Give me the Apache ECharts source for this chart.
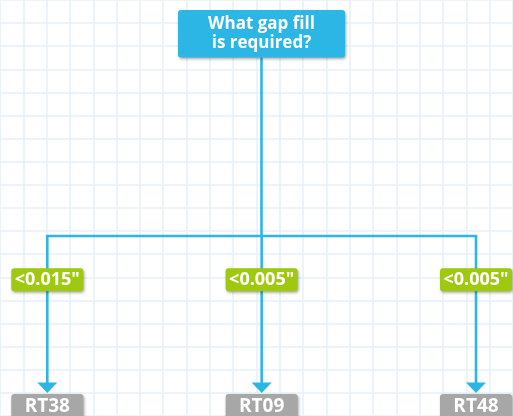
<!DOCTYPE html>
<html>
<head>
<meta charset="utf-8">
<script src="https://cdn.jsdelivr.net/npm/echarts@6/dist/echarts.min.js"></script>
<style>
  html, body { margin: 0; padding: 0; background: #ffffff; }
  #chart { width: 513px; height: 416px; }
</style>
</head>
<body>
<div id="chart"></div>
<script>
// ---- content (data) ----
const question = ['What gap fill', 'is required?'];
const conditions = ['<0.015"', '<0.005"', '<0.005"'];
const results = ['RT38', 'RT09', 'RT48'];

// ---- layout ----
const FONT = '"Open Sans", "Noto Sans", sans-serif';
const BLUE = '#2cb6e6';
const GREEN = '#9fc90f';
const GRAY = '#a7a7a7';
const GRIDLINE = '#e4f0fa';
const shadow = { shadowBlur: 3, shadowOffsetX: 1, shadowOffsetY: 1.5, shadowColor: 'rgba(0,0,0,0.35)' };

const rootX = 261.5, rootTop = 10, rootH = 47.5, rootW = 167;
const barY = 236;
const firstX = 47.3, stepX = 214.35;
const condY = 279.7, condW = 72, condH = 23;
const arrowTip = 393, arrowH = 10.5, arrowHalf = 10;
const resTop = 394, resW = 72, resH = 25;

const branchX = i => firstX + i * stepX;

const chart = echarts.init(document.getElementById('chart'), null, { renderer: 'canvas' });

const hidden = { axisLine: { show: false }, axisTick: { show: false }, axisLabel: { show: false } };

const option = {
  backgroundColor: '#ffffff',
  animation: false,
  grid: [
    // background graph paper
    { left: 22.3 - 23.93, top: 10 - 24, width: 23.93 * 22, height: 24 * 18, containLabel: false },
    // content, 1 unit = 1 px
    { left: 0, top: 0, right: 0, bottom: 0, containLabel: false }
  ],
  xAxis: [
    Object.assign({ gridIndex: 0, type: 'value', min: 0, max: 22, interval: 1,
      splitLine: { show: true, lineStyle: { color: GRIDLINE, width: 1.5 } } }, hidden),
    Object.assign({ gridIndex: 1, type: 'value', min: 0, max: 513, splitLine: { show: false } }, hidden)
  ],
  yAxis: [
    Object.assign({ gridIndex: 0, type: 'value', min: 0, max: 18, interval: 1, inverse: true,
      splitLine: { show: true, lineStyle: { color: GRIDLINE, width: 1.5 } } }, hidden),
    Object.assign({ gridIndex: 1, type: 'value', min: 0, max: 416, inverse: true, splitLine: { show: false } }, hidden)
  ],
  series: [
    // trunk: stem from question + horizontal bar
    {
      type: 'custom', xAxisIndex: 1, yAxisIndex: 1, silent: true,
      data: [[rootX, rootTop + rootH]],
      renderItem: function (params, api) {
        const top = api.coord([api.value(0), api.value(1)]);
        const bar = api.coord([rootX, barY]);
        const l = api.coord([branchX(0), barY]);
        const r = api.coord([branchX(results.length - 1), barY]);
        return {
          type: 'group',
          children: [
            { type: 'line', shape: { x1: top[0], y1: top[1], x2: bar[0], y2: bar[1] },
              style: { stroke: BLUE, lineWidth: 2.6 } },
            { type: 'line', shape: { x1: l[0], y1: l[1], x2: r[0], y2: r[1] },
              style: { stroke: BLUE, lineWidth: 2.6, lineCap: 'square' } }
          ]
        };
      }
    },
    // branches with arrows
    {
      type: 'custom', xAxisIndex: 1, yAxisIndex: 1, silent: true,
      data: results.map((_, i) => [branchX(i), barY, arrowTip]),
      renderItem: function (params, api) {
        const a = api.coord([api.value(0), api.value(1)]);
        const b = api.coord([api.value(0), api.value(2)]);
        return {
          type: 'group',
          children: [
            { type: 'line', shape: { x1: a[0], y1: a[1], x2: b[0], y2: b[1] - arrowH + 1 },
              style: { stroke: BLUE, lineWidth: 2.6 } },
            { type: 'polygon', shape: { points: [[b[0] - arrowHalf, b[1] - arrowH], [b[0] + arrowHalf, b[1] - arrowH], [b[0], b[1]]] },
              style: { fill: BLUE } }
          ]
        };
      }
    },
    // question box
    {
      type: 'custom', xAxisIndex: 1, yAxisIndex: 1, silent: true,
      data: [[rootX, rootTop + rootH / 2]],
      renderItem: function (params, api) {
        const c = api.coord([api.value(0), api.value(1)]);
        return {
          type: 'rect',
          shape: { x: c[0] - rootW / 2, y: c[1] - rootH / 2, width: rootW, height: rootH, r: 3 },
          style: Object.assign({ fill: BLUE }, shadow),
          textContent: { style: { text: question.join('\n'), fill: '#ffffff', font: 'bold 17px ' + FONT, lineHeight: 18.5, align: 'center', verticalAlign: 'middle' } },
          textConfig: { position: 'inside' }
        };
      }
    },
    // condition labels
    {
      type: 'custom', xAxisIndex: 1, yAxisIndex: 1, silent: true,
      data: conditions.map((_, i) => [branchX(i), condY]),
      renderItem: function (params, api) {
        const c = api.coord([api.value(0), api.value(1)]);
        return {
          type: 'rect',
          shape: { x: c[0] - condW / 2, y: c[1] - condH / 2, width: condW, height: condH, r: 3 },
          style: Object.assign({ fill: GREEN }, shadow),
          textContent: { style: { text: conditions[params.dataIndex], fill: '#ffffff', font: 'bold 18px ' + FONT, align: 'center', verticalAlign: 'middle' } },
          textConfig: { position: 'inside' }
        };
      }
    },
    // result boxes
    {
      type: 'custom', xAxisIndex: 1, yAxisIndex: 1, silent: true,
      data: results.map((_, i) => [branchX(i), resTop]),
      renderItem: function (params, api) {
        const c = api.coord([api.value(0), api.value(1)]);
        return {
          type: 'rect',
          shape: { x: c[0] - resW / 2, y: c[1], width: resW, height: resH, r: 3 },
          style: Object.assign({ fill: GRAY }, shadow),
          textContent: { style: { text: results[params.dataIndex], fill: '#ffffff', font: 'bold 19px ' + FONT, align: 'center', verticalAlign: 'middle' } },
          textConfig: { position: 'inside' }
        };
      }
    }
  ]
};

chart.setOption(option);
</script>
</body>
</html>
